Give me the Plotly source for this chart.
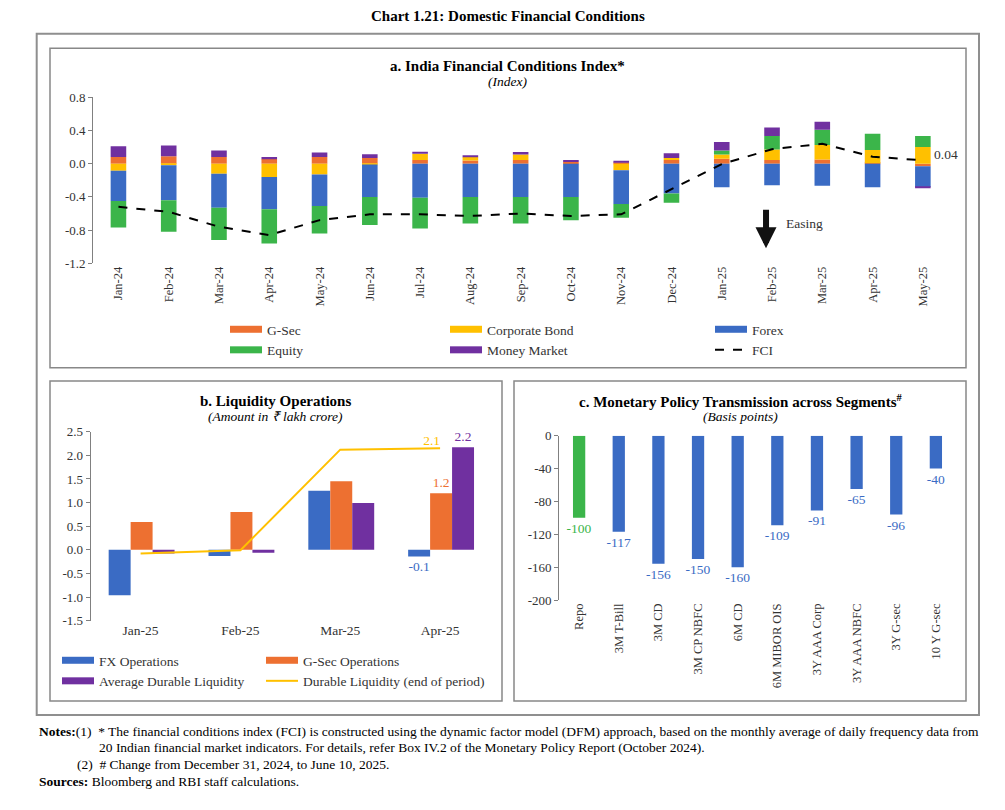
import plotly.graph_objects as go

W, H = 1005, 810
def px(x): return x / W
def py(y): return 1 - y / H

FONT = "Liberation Serif"

# ---------------- Panel a: India Financial Conditions Index ----------------
months_a = ["Jan-24", "Feb-24", "Mar-24", "Apr-24", "May-24", "Jun-24", "Jul-24", "Aug-24",
            "Sep-24", "Oct-24", "Nov-24", "Dec-24", "Jan-25", "Feb-25", "Mar-25", "Apr-25", "May-25"]
gsec = [0.08, 0.09, 0.08, 0.057, 0.08, 0.07, 0.045, 0.04, 0.045, 0.02, 0.01, 0.045, 0.06, 0.045, 0.05, 0.005, -0.03]
corp_bond = [-0.085, -0.02, -0.12, -0.16, -0.13, -0.01, 0.075, 0.04, 0.065, 0.0, -0.08, 0.025, 0.05, 0.125, 0.175, 0.16, 0.2]
forex = [-0.365, -0.42, -0.41, -0.39, -0.38, -0.39, -0.41, -0.40, -0.40, -0.40, -0.405, -0.36, -0.285, -0.26, -0.265, -0.285, -0.25]
equity = [-0.32, -0.38, -0.39, -0.41, -0.33, -0.34, -0.37, -0.32, -0.32, -0.28, -0.165, -0.11, 0.05, 0.165, 0.185, 0.195, 0.135]
money_mkt = [0.13, 0.13, 0.08, 0.023, 0.055, 0.045, 0.025, 0.015, 0.03, 0.025, 0.025, 0.055, 0.10, 0.10, 0.095, 0.0, -0.01]
fci = [-0.52, -0.58, -0.76, -0.86, -0.68, -0.61, -0.61, -0.63, -0.60, -0.63, -0.61, -0.31, -0.005, 0.175, 0.24, 0.085, 0.04]
ytick_a = [0.8, 0.4, 0.0, -0.4, -0.8, -1.2]
ytext_a = ["0.8", "0.4", "0.0", "-0.4", "-0.8", "-1.2"]

# ---------------- Panel b: Liquidity Operations ----------------
months_b = ["Jan-25", "Feb-25", "Mar-25", "Apr-25"]
fx_ops = [-0.96, -0.13, 1.25, -0.14]
gsec_ops = [0.59, 0.80, 1.45, 1.20]
avg_durable = [-0.08, -0.06, 0.99, 2.17]
durable_eop = [-0.08, -0.01, 2.12, 2.15]
ytick_b = [2.5, 2.0, 1.5, 1.0, 0.5, 0.0, -0.5, -1.0, -1.5]
ytext_b = ["2.5", "2.0", "1.5", "1.0", "0.5", "0.0", "-0.5", "-1.0", "-1.5"]

# ---------------- Panel c: Monetary Policy Transmission ----------------
segments = ["Repo", "3M T-Bill", "3M CD", "3M CP NBFC", "6M CD", "6M MIBOR OIS",
            "3Y AAA Corp", "3Y AAA NBFC", "3Y G-sec", "10 Y G-sec"]
bps = [-100, -117, -156, -150, -160, -109, -91, -65, -96, -40]
ytick_c = [0, -40, -80, -120, -160, -200]
ytext_c = ["0", "-40", "-80", "-120", "-160", "-200"]

C_ORANGE = "#ED7031"
C_YELLOW = "#FFC000"
C_BLUE = "#3A6BC4"
C_GREEN = "#3BB54A"
C_PURPLE = "#7030A0"
GRAY = "#808080"
TXT = "#333333"

fig = go.Figure()

# Panel a stacked bars
comp_names = ["G-Sec", "Corporate Bond", "Forex", "Equity", "Money Market"]
comp_vals = [gsec, corp_bond, forex, equity, money_mkt]
comp_cols = [C_ORANGE, C_YELLOW, C_BLUE, C_GREEN, C_PURPLE]
comp_leg = ["legend", "legend2", "legend3", "legend", "legend2"]
comp_rank = [1, 1, 1, 2, 2]
for name, vals, col in zip(comp_names, comp_vals, comp_cols):
    fig.add_trace(go.Bar(x=months_a, y=vals, name=name, marker=dict(color=col, line_width=0),
                         width=0.31, showlegend=False, xaxis="x", yaxis="y"))
fig.add_trace(go.Scatter(x=months_a, y=fci, mode="lines", name="FCI",
                         line=dict(color="black", dash="dash", width=2),
                         legend="legend3", legendrank=2, xaxis="x", yaxis="y"))
# legend entries for panel a bars
for name, col, lg, rk in zip(comp_names, comp_cols, comp_leg, comp_rank):
    fig.add_trace(go.Scatter(x=[None], y=[None], mode="lines", name=name,
                             line=dict(color=col, width=7), legend=lg, legendrank=rk,
                             xaxis="x", yaxis="y"))

# Panel b grouped bars
b_names = ["FX Operations", "G-Sec Operations", "Average Durable Liquidity"]
b_vals = [fx_ops, gsec_ops, avg_durable]
b_cols = [C_BLUE, C_ORANGE, C_PURPLE]
b_offs = [-0.32, -0.10, 0.12]
b_leg = ["legend4", "legend5", "legend4"]
b_rank = [1, 1, 2]
for name, vals, col, off in zip(b_names, b_vals, b_cols, b_offs):
    txt = [""] * (len(vals) - 1) + [f"{vals[-1]:.1f}"]
    fig.add_trace(go.Bar(x=months_b, y=vals, base=0, width=0.22, offset=off, name=name,
                         marker=dict(color=col, line_width=0), text=txt, textposition="outside",
                         constraintext="none",
                         textfont=dict(color=col, size=13.5, family=FONT), cliponaxis=False,
                         showlegend=False, xaxis="x2", yaxis="y2"))
fig.add_trace(go.Scatter(x=months_b, y=durable_eop, mode="lines+text", name="Durable Liquidity (end of period)",
                         text=[""] * (len(durable_eop) - 1) + [f"{durable_eop[-1]:.1f}"],
                         textposition="top left", textfont=dict(color=C_YELLOW, size=13.5, family=FONT),
                         line=dict(color=C_YELLOW, width=2), legend="legend5", legendrank=2,
                         cliponaxis=False, xaxis="x2", yaxis="y2"))
for name, col, lg, rk in zip(b_names, b_cols, b_leg, b_rank):
    fig.add_trace(go.Scatter(x=[None], y=[None], mode="lines", name=name,
                             line=dict(color=col, width=7), legend=lg, legendrank=rk,
                             xaxis="x2", yaxis="y2"))

# Panel c bars
c_cols = [C_GREEN if s == "Repo" else C_BLUE for s in segments]
fig.add_trace(go.Bar(x=segments, y=bps, width=0.31, marker=dict(color=c_cols, line_width=0),
                     text=[str(v) for v in bps], textposition="outside", constraintext="none",
                     textfont=dict(color=c_cols, size=13.5, family=FONT), cliponaxis=False,
                     showlegend=False, xaxis="x3", yaxis="y3"))

# ---------------- Layout ----------------
dom_a_x = [px(93.3), px(948)]
dom_a_y = [py(263.3), py(97.3)]
zero_a = py(163.7)
dom_b_x = [px(90.7), px(490)]
dom_b_y = [py(620.7), py(431.7)]
zero_b = py(550.3)
dom_c_x = [px(559.3), px(955.7)]
dom_c_y = [py(600), py(435.7)]

def yax(dom, anchor, rng, tv, tt):
    return dict(domain=dom, anchor=anchor, range=rng, tickvals=tv, ticktext=tt,
                showline=True, linecolor=GRAY, linewidth=1.2, ticks="outside", ticklen=4,
                tickcolor=GRAY, showgrid=False, zeroline=False,
                tickfont=dict(family=FONT, size=13, color=TXT))

def xcat(dom, anchor, n, angle, size):
    return dict(domain=dom, anchor=anchor, type="category", range=[-0.5, n - 0.5],
                showline=False, ticks="", tickangle=angle, showgrid=False, zeroline=False,
                tickfont=dict(family=FONT, size=size, color=TXT))

def xzero(over, pos, n):
    return dict(overlaying=over, anchor="free", position=pos, range=[-0.5, n - 0.5],
                type="linear", showline=True, linecolor=GRAY, linewidth=1.3,
                ticks="outside", ticklen=4, tickcolor=GRAY,
                tickvals=[i - 0.5 for i in range(n + 1)], showticklabels=False,
                showgrid=False, zeroline=False)

def leg(x, y):
    return dict(x=px(x), y=py(y), xanchor="left", yanchor="top", orientation="v",
                bgcolor="rgba(0,0,0,0)", itemwidth=32, tracegroupgap=0,
                font=dict(family=FONT, size=13.5, color=TXT))

ann = []
def txt(x, y, s, size=13, bold=False, italic=False, xanchor="center", color="black"):
    if bold:
        s = f"<b>{s}</b>"
    if italic:
        s = f"<i>{s}</i>"
    ann.append(dict(x=px(x), y=py(y), xref="paper", yref="paper", text=s, showarrow=False,
                    xanchor=xanchor, yanchor="middle", font=dict(family=FONT, size=size, color=color)))

txt(508, 16, "Chart 1.21: Domestic Financial Conditions", size=15, bold=True)
txt(508, 66, "a. India Financial Conditions Index*", size=15, bold=True)
txt(508, 82, "(Index)", size=13.5, italic=True)
txt(275, 401, "b. Liquidity Operations", size=15, bold=True)
txt(275, 416, "(Amount in ₹ lakh crore)", size=13.5, italic=True)
txt(740, 401, "c. Monetary Policy Transmission across Segments<sup>#</sup>", size=15, bold=True)
txt(740, 416, "(Basis points)", size=13.5, italic=True)

NOTE = 13.5
txt(37, 731, "<b>Notes:</b>(1)  * The financial conditions index (FCI) is constructed using the dynamic factor model (DFM) approach, based on the monthly average of daily frequency data from", size=NOTE, xanchor="left")
txt(97, 747, "20 Indian financial market indicators. For details, refer Box IV.2 of the Monetary Policy Report (October 2024).", size=NOTE, xanchor="left")
txt(75, 764, "(2)  # Change from December 31, 2024, to June 10, 2025.", size=NOTE, xanchor="left")
txt(37, 781, "<b>Sources:</b> Bloomberg and RBI staff calculations.", size=NOTE, xanchor="left")

# Easing arrow
ann.append(dict(x="Feb-25", y=-1.02, xref="x", yref="y", ax=0, ay=-40, axref="pixel", ayref="pixel",
                text="", showarrow=True, arrowhead=2, arrowsize=0.7, arrowwidth=6, arrowcolor="#111111",
                xshift=-6))
ann.append(dict(x="Feb-25", y=-0.74, xref="x", yref="y", text="Easing", showarrow=False,
                xanchor="left", xshift=12, yshift=2, font=dict(family=FONT, size=13.5, color=TXT)))
ann.append(dict(x=months_a[-1], y=fci[-1], xref="x", yref="y", text=f"{fci[-1]:.2f}", showarrow=False,
                xanchor="left", xshift=9, yshift=6, font=dict(family=FONT, size=13.5, color=TXT)))

def box(x0, y0, x1, y1, w=1.5, c="#888888"):
    return dict(type="rect", xref="paper", yref="paper", x0=px(x0), x1=px(x1), y0=py(y0), y1=py(y1),
                line=dict(color=c, width=w), fillcolor="rgba(0,0,0,0)", layer="below")

shapes = [box(36.7, 33.7, 979, 715, 2, "#8f8f8f"),
          box(50, 48.3, 966, 367.7),
          box(50, 381, 502, 701),
          box(514, 381, 966, 701)]

fig.update_layout(
    autosize=True, margin=dict(l=0, r=0, t=0, b=0, autoexpand=False),
    paper_bgcolor="white", plot_bgcolor="white",
    barmode="relative", bargap=0.69,
    font=dict(family=FONT, size=13, color=TXT),
    xaxis=xcat(dom_a_x, "y", len(months_a), -90, 12.5),
    yaxis=yax(dom_a_y, "x", [-1.2, 0.8], ytick_a, ytext_a),
    xaxis2=xcat(dom_b_x, "y2", len(months_b), 0, 13.5),
    yaxis2=yax(dom_b_y, "x2", [-1.5, 2.5], ytick_b, ytext_b),
    xaxis3=xcat(dom_c_x, "y3", len(segments), -90, 12.5),
    yaxis3=yax(dom_c_y, "x3", [-200, 0], ytick_c, ytext_c),
    xaxis4=xzero("x", zero_a, len(months_a)),
    xaxis5=xzero("x2", zero_b, len(months_b)),
    xaxis6=xzero("x3", dom_c_y[1], len(segments)),
    legend=leg(225, 314),
    legend2=leg(445, 314),
    legend3=leg(710, 314),
    legend4=leg(57, 645),
    legend5=leg(261, 645),
    annotations=ann,
    shapes=shapes,
)

post = ("document.documentElement.style.margin='0px';document.body.style.margin='0px';"
        "document.body.style.overflow='hidden';document.documentElement.style.overflow='hidden';"
        "var gd=document.getElementById('{plot_id}');gd.style.width='100vw';gd.style.height='100vh';"
        "Plotly.Plots.resize(gd);")
fig.write_html("out.html", config={"displayModeBar": False, "responsive": True},
               default_width="100vw", default_height="100vh", post_script=post)
